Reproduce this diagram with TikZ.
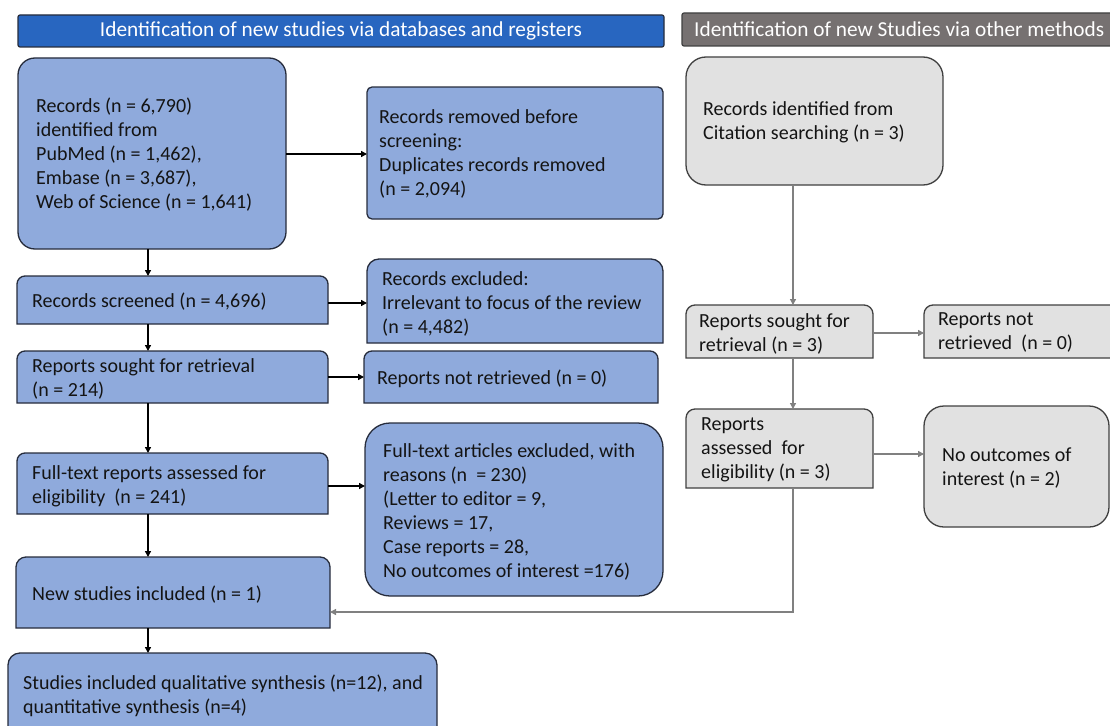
\documentclass[tikz,border=0pt]{standalone}
\usepackage{fontspec}
\setmainfont{Carlito}
\usetikzlibrary{arrows.meta}
\definecolor{blueFill}{RGB}{143,170,220}
\definecolor{blueLine}{RGB}{38,44,60}
\definecolor{hdrBlue}{RGB}{40,102,192}
\definecolor{hdrGray}{RGB}{118,113,113}
\definecolor{grayFill}{RGB}{225,225,225}
\definecolor{grayLine}{RGB}{64,64,64}
\definecolor{connGray}{RGB}{128,128,128}
\definecolor{textc}{RGB}{20,20,20}
% #1 name, #2 x1, #3 y1, #4 x2, #5 y2 (image px, y down), #6 radius, #7 style
\newcommand\TopBox[7]{%
  \path[#7] (#2,-#5) -- (#2,{-(#3)-(#6)}) arc[start angle=180,end angle=90,radius=#6]
    -- ({(#4)-(#6)},-#3) arc[start angle=90,end angle=0,radius=#6] -- (#4,-#5) -- cycle;
  \node[anchor=north west, inner sep=0pt, outer sep=0pt,
        minimum width={(#4)-(#2)}, minimum height={(#5)-(#3)}] (#1) at (#2,-#3) {};}
\newcommand\RoundBox[7]{%
  \node[#7, rounded corners=#6pt, anchor=north west, inner sep=0pt, outer sep=0pt,
        minimum width={(#4)-(#2)}, minimum height={(#5)-(#3)}] (#1) at (#2,-#3) {};}
\begin{document}
\begin{tikzpicture}[x=1pt,y=1pt,
  bluebox/.style={fill=blueFill, draw=blueLine, line width=1.3pt},
  graybox/.style={fill=grayFill, draw=grayLine, line width=1.3pt},
  hdrbluebox/.style={fill=hdrBlue, draw=blueLine, line width=1.2pt},
  hdrgraybox/.style={fill=hdrGray, draw=grayLine, line width=1.2pt},
  txt/.style={align=left, inner sep=0pt, text=textc, font=\fontsize{20}{24}\selectfont, anchor=west},
  htxt/.style={inner sep=0pt, text=white, font=\fontsize{21.3}{24}\selectfont},
  arr/.style={draw=black, line width=1.4pt, -{Triangle[length=6pt,width=6pt]}},
  garr/.style={draw=connGray, line width=1.3pt, -{Triangle[length=6pt,width=6pt]}}
]
\useasboundingbox (0,0) rectangle (1110,-725);

% headers
\RoundBox{hL}{18}{15}{664}{47}{2}{hdrbluebox}
\node[htxt] (hL-t) at (hL.center) {Identification of new studies via databases and registers};
\RoundBox{hR}{682}{13}{1130}{46}{2}{hdrgraybox}
\node[htxt, anchor=west] (hR-t) at ([xshift=12pt]hR.west) {Identification of new Studies via other methods};

% left column
\RoundBox{A}{18}{58}{286}{249}{17}{bluebox}
\node[txt] (A-t) at ([xshift=18pt,yshift=-1pt]A.west) {Records (n = 6,790)\\identified from\\PubMed (n = 1,462),\\Embase (n = 3,687),\\Web of Science (n = 1,641)};

\RoundBox{B}{367}{87}{663}{219}{5}{bluebox}
\node[txt] (B-t) at ([xshift=12pt,yshift=-1pt]B.west) {Records removed before\\screening:\\Duplicates records removed\\(n = 2,094)};

\TopBox{C}{17}{276}{328}{324}{8}{bluebox}
\node[txt] (C-t) at ([xshift=15pt,yshift=-2pt]C.west) {Records screened (n = 4,696)};

\TopBox{D}{367}{259}{663}{343}{12}{bluebox}
\node[txt] (D-t) at ([xshift=15pt,yshift=-3pt]D.west) {Records excluded:\\Irrelevant to focus of the review\\(n = 4,482)};

\TopBox{E}{17}{351}{328}{403}{8}{bluebox}
\node[txt] (E-t) at ([xshift=15pt,yshift=-2pt]E.west) {Reports sought for retrieval\\(n = 214)};

\TopBox{F}{364}{351}{658}{403}{8}{bluebox}
\node[txt] (F-t) at ([xshift=13pt,yshift=-2pt]F.west) {Reports not retrieved (n = 0)};

\TopBox{G}{17}{453}{328}{514}{8}{bluebox}
\node[txt] (G-t) at ([xshift=15pt,yshift=-3pt]G.west) {Full-text reports assessed for\\eligibility\ \ (n = 241)};

\RoundBox{H}{365}{423}{663}{596}{25}{bluebox}
\node[txt] (H-t) at ([xshift=18pt,yshift=-2pt]H.west) {Full-text articles excluded, with\\reasons (n\ \ = 230)\\(Letter to editor = 9,\\Reviews = 17,\\Case reports = 28,\\No outcomes of interest =176)};

\TopBox{I}{16}{557}{330}{628}{10}{bluebox}
\node[txt] (I-t) at ([xshift=16pt,yshift=-2pt]I.west) {New studies included (n = 1)};

\TopBox{J}{8}{653}{437}{745}{12}{bluebox}
\node[txt] (J-t) at ([xshift=15pt,yshift=3pt]J.west) {Studies included qualitative synthesis (n=12), and\\quantitative synthesis (n=4)};

% right column
\RoundBox{K}{686}{57}{943}{185}{20}{graybox}
\node[txt] (K-t) at ([xshift=17pt,yshift=-1pt]K.west) {Records identified from\\Citation searching (n = 3)};

\TopBox{L}{686}{305}{873}{358}{9}{graybox}
\node[txt] (L-t) at ([xshift=13pt,yshift=-2pt]L.west) {Reports sought for\\retrieval (n = 3)};

\TopBox{M}{924}{305}{1125}{358}{9}{graybox}
\node[txt] (M-t) at ([xshift=14pt,yshift=-1pt]M.west) {Reports not\\retrieved\ \ (n = 0)};

\TopBox{N}{686}{409}{873}{488}{9}{graybox}
\node[txt] (N-t) at ([xshift=15pt,yshift=-1pt]N.west) {Reports\\assessed\ \ for\\eligibility (n = 3)};

\RoundBox{O}{924}{406}{1109}{527}{20}{graybox}
\node[txt] (O-t) at ([xshift=18pt,yshift=-2pt]O.west) {No outcomes of\\interest (n = 2)};

% connector columns
\coordinate (lcol) at (148,0);
\coordinate (rcol) at (793,0);

% black connectors
\draw[arr] ([yshift=-0.5pt]A.east) -- ([yshift=-0.5pt]A.east -| B.west);
\draw[arr] (A.south -| lcol) -- (C.north -| lcol);
\draw[arr] ([yshift=-3pt]C.east) -- ([yshift=-3pt]C.east -| D.west);
\draw[arr] (C.south -| lcol) -- (E.north -| lcol);
\draw[arr] (E.east) -- (E.east -| F.west);
\draw[arr] (E.south -| lcol) -- (G.north -| lcol);
\draw[arr] ([yshift=-2.5pt]G.east) -- ([yshift=-2.5pt]G.east -| H.west);
\draw[arr] (G.south -| lcol) -- (I.north -| lcol);
\draw[arr] (I.south -| lcol) -- (J.north -| lcol);

% gray connectors
\draw[garr] (K.south -| rcol) -- (L.north -| rcol);
\draw[garr] ([yshift=-1.5pt]L.east) -- ([yshift=-1.5pt]L.east -| M.west);
\draw[garr] (L.south -| rcol) -- (N.north -| rcol);
\draw[garr] ([yshift=-5.5pt]N.east) -- ([yshift=-5.5pt]N.east -| O.west);
\draw[garr] (N.south -| rcol) |- ([yshift=-19.5pt]I.east);
\end{tikzpicture}
\end{document}
